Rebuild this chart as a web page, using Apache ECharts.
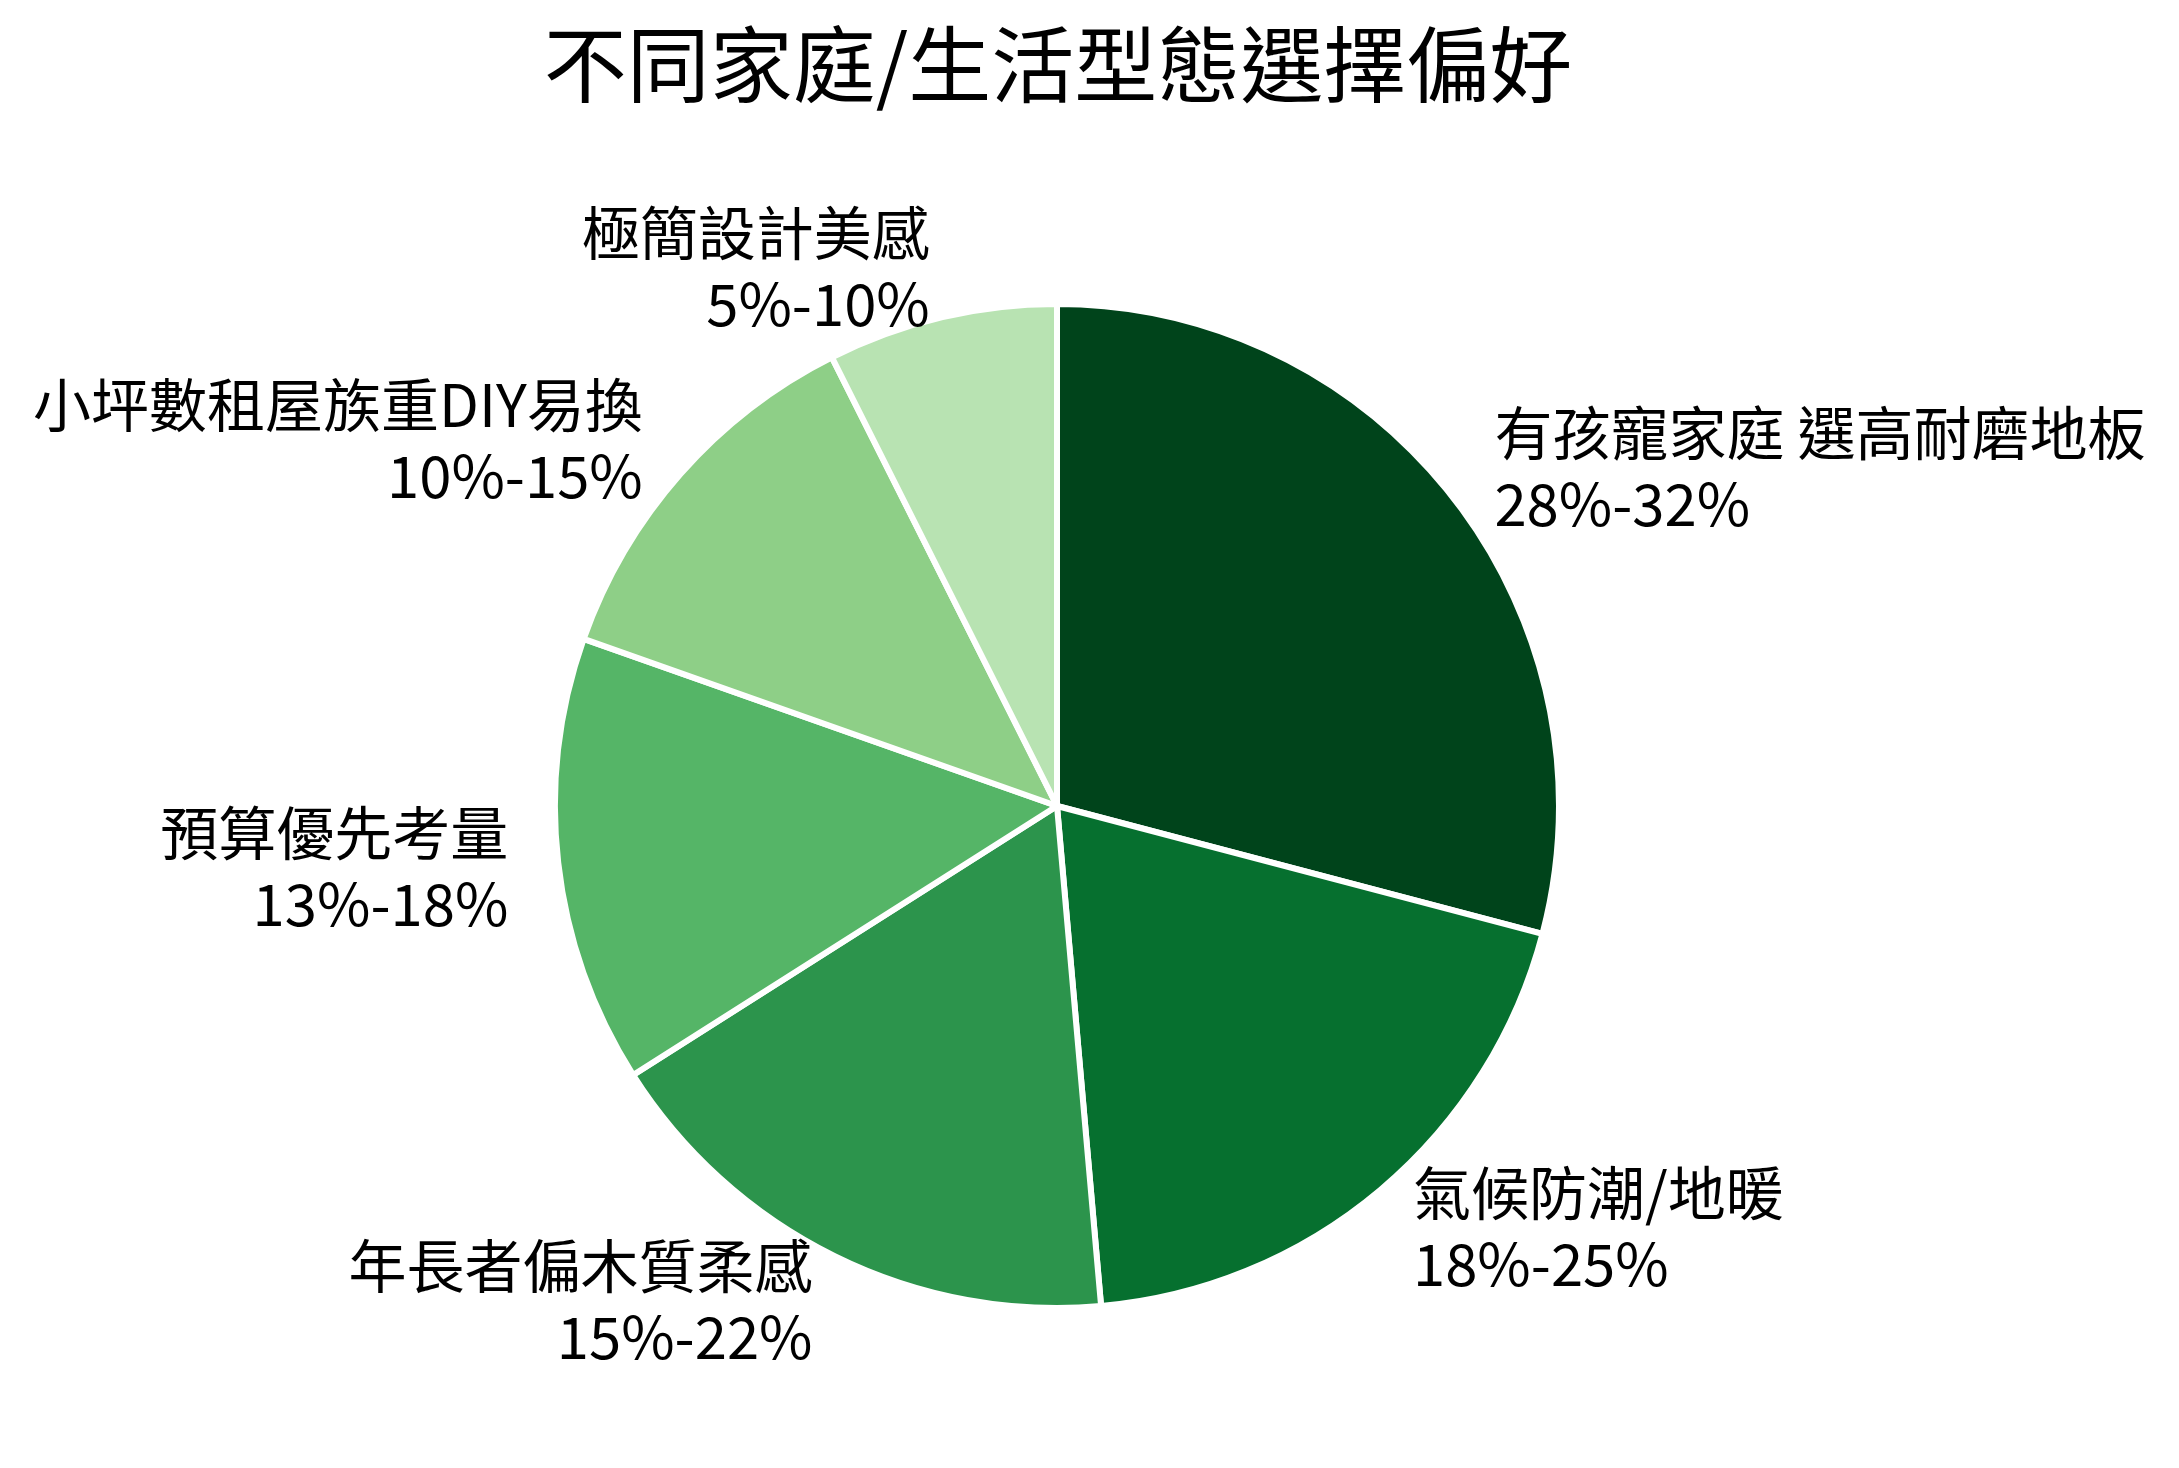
<!DOCTYPE html>
<html>
<head>
<meta charset="utf-8">
<script src="https://cdn.jsdelivr.net/npm/echarts@6/dist/echarts.min.js"></script>
<style>
html,body{margin:0;padding:0;background:#fff;}
#chart{width:2179px;height:1468px;}
</style>
</head>
<body>
<div id="chart"></div>
<script>
const titleText = '不同家庭/生活型態選擇偏好';
const categories = ['有孩寵家庭 選高耐磨地板', '氣候防潮/地暖', '年長者偏木質柔感', '預算優先考量', '小坪數租屋族重DIY易換', '極簡設計美感'];
const shares = [29.1, 19.5, 17.4, 14.4, 12.2, 7.4];
const rangeLabels = ['28%-32%', '18%-25%', '15%-22%', '13%-18%', '10%-15%', '5%-10%'];
const colors = ['#00441b', '#06702f', '#2c944c', '#55b567', '#8ecf87', '#b8e3b2'];

const FONT = '"Noto Sans CJK TC", "Noto Sans CJK SC", sans-serif';
const R = 502;

const chart = echarts.init(document.getElementById('chart'), null, {renderer: 'canvas'});
chart.setOption({
  backgroundColor: '#ffffff',
  animation: false,
  title: {
    text: titleText,
    left: 1053,
    top: 18,
    textAlign: 'center',
    textStyle: {fontFamily: FONT, fontSize: 83, fontWeight: 'normal', color: '#000'}
  },
  series: [{
    type: 'pie',
    center: [1057, 806],
    radius: [0, R],
    startAngle: 90,
    clockwise: true,
    avoidLabelOverlap: false,
    minShowLabelAngle: 0,
    itemStyle: {borderColor: '#ffffff', borderWidth: 6},
    emphasis: {disabled: true},
    label: {
      show: true,
      position: 'outside',
      distanceToLabelLine: 0,
      fontFamily: FONT,
      fontSize: 58,
      lineHeight: 71,
      color: '#000',
      formatter: p => p.name + '\n' + rangeLabels[p.dataIndex]
    },
    labelLine: {show: false, length: R * 0.1, length2: 0},
    data: categories.map((c, i) => ({name: c, value: shares[i], itemStyle: {color: colors[i]}}))
  }]
});
</script>
</body>
</html>
